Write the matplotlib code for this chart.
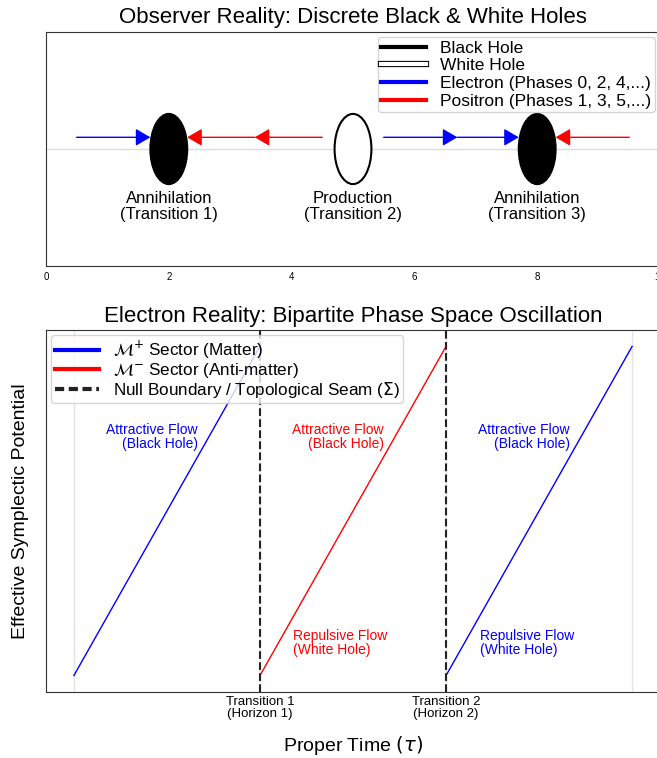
import numpy as np
import matplotlib
matplotlib.use("Agg")
import matplotlib.pyplot as plt
from matplotlib.patches import Ellipse
from matplotlib.lines import Line2D
import matplotlib.patheffects as pe

plt.rcParams['font.family'] = ['Liberation Sans', 'DejaVu Sans']

# ---- top panel data (observer frame) ----
hole_x = [2, 5, 8]
hole_kind = ['black', 'white', 'black']
hole_text = ['Annihilation\n(Transition 1)', 'Production\n(Transition 2)', 'Annihilation\n(Transition 3)']
# arrow pieces: start, end, colour
arrow_start = [0.5, 4.5, 3.4, 5.5, 6.7, 9.5]
arrow_end = [1.7, 3.4, 2.3, 6.7, 7.7, 8.3]
arrow_col = ['blue', 'red', 'red', 'blue', 'blue', 'red']
arrow_y = 0.1

# ---- bottom panel data (electron frame) ----
seg_t0 = [0, 1, 2]
seg_t1 = [1, 2, 3]
seg_v0 = [-1, -1, -1]
seg_v1 = [1, 1, 1]
seg_col = ['blue', 'red', 'blue']
seams = [1, 2]
tick_pos = [0, 1, 2, 3]
tick_lab = ['', 'Transition 1\n(Horizon 1)', 'Transition 2\n(Horizon 2)', '']

W, H = 657, 758
fig = plt.figure(figsize=(W/100, H/100), dpi=100)

def px_axes(l, t, r, b):
    return fig.add_axes([l/W, 1 - b/H, (r-l)/W, (b-t)/H])

spine_c = '#333333'

# ================= top =================
ax1 = px_axes(46, 32, 660, 266)
ax1.set_xlim(0, 10)
ax1.set_ylim(-1, 1)
ax1.set_yticks([])
ax1.set_xticks([0, 2, 4, 6, 8, 10])
ax1.tick_params(axis='x', length=0, labelsize=7, pad=4)
for s in ax1.spines.values():
    s.set_color(spine_c)
ax1.axhline(0, color='#dddddd', lw=1, zorder=0)

for x, k, t in zip(hole_x, hole_kind, hole_text):
    fc = 'black' if k == 'black' else 'white'
    ax1.add_patch(Ellipse((x, 0), 0.6, 0.6, facecolor=fc, edgecolor='black', lw=1.5, zorder=3))
    ax1.text(x, -0.49, t, ha='center', va='center', fontsize=12, linespacing=1.05)

for a, b, c in zip(arrow_start, arrow_end, arrow_col):
    ax1.annotate('', xy=(b, arrow_y), xytext=(a, arrow_y),
                 arrowprops=dict(arrowstyle='-|>,head_length=0.6,head_width=0.35',
                                 color=c, lw=1, mutation_scale=15, shrinkA=0, shrinkB=0),
                 zorder=4)

h_white = Line2D([], [], color='white', lw=3,
                 path_effects=[pe.Stroke(linewidth=4.5, foreground='black'), pe.Normal()])
handles1 = [Line2D([], [], color='black', lw=3), h_white,
            Line2D([], [], color='blue', lw=3), Line2D([], [], color='red', lw=3)]
labels1 = ['Black Hole', 'White Hole', 'Electron (Phases 0, 2, 4,...)', 'Positron (Phases 1, 3, 5,...)']
ax1.legend(handles1, labels1, loc='upper right', fontsize=12.5, handlelength=2.6,
           labelspacing=0.14, borderpad=0.2, borderaxespad=0.3, edgecolor='#cccccc')

fig.text((46+660)/2/W, 1 - 18/H, 'Observer Reality: Discrete Black & White Holes',
         ha='center', va='center', fontsize=16)

# ================= bottom =================
ax2 = px_axes(46, 330, 660, 692)
ax2.set_xlim(-0.15, 3.15)
ax2.set_ylim(-1.1, 1.1)
ax2.set_yticks([])
ax2.set_xticks(tick_pos)
ax2.set_xticklabels(tick_lab, fontsize=9.5, linespacing=1.0)
ax2.tick_params(axis='x', length=0, pad=3)
ax2.grid(axis='x', color='#e3e3e3', lw=1)
ax2.set_axisbelow(True)
for s in ax2.spines.values():
    s.set_color(spine_c)

for t0, t1, v0, v1, c in zip(seg_t0, seg_t1, seg_v0, seg_v1, seg_col):
    ax2.plot([t0, t1], [v0, v1], color=c, lw=1)
    ax2.text(t0 + 0.665, 0.45, 'Attractive Flow\n(Black Hole)', color=c,
             ha='right', va='center', fontsize=10, linespacing=1.0)
    if t0 > 0:
        ax2.text(t0 + 0.18, -0.8, 'Repulsive Flow\n(White Hole)', color=c,
                 ha='left', va='center', fontsize=10, linespacing=1.0)

for s in seams:
    ax2.axvline(s, color='#222222', ls='--', lw=1.5)

handles2 = [Line2D([], [], color='blue', lw=3), Line2D([], [], color='red', lw=3),
            Line2D([], [], color='#222222', lw=3, ls=(0, (2.2, 1.1)))]
labels2 = [r'$\mathcal{M}^{+}$ Sector (Matter)', r'$\mathcal{M}^{-}$ Sector (Anti-matter)',
           r'Null Boundary / Topological Seam ($\Sigma$)']
ax2.legend(handles2, labels2, loc='upper left', fontsize=12.3, handlelength=2.6,
           labelspacing=0.0, borderpad=0.2, borderaxespad=0.3, edgecolor='#cccccc')

ax2.set_xlabel(r'Proper Time $(\tau)$', fontsize=14, labelpad=10)
ax2.set_ylabel('Effective Symplectic Potential', fontsize=14, labelpad=12)
ax2.set_title('Electron Reality: Bipartite Phase Space Oscillation', fontsize=16, pad=6)

fig.savefig('out.png', dpi=100)
